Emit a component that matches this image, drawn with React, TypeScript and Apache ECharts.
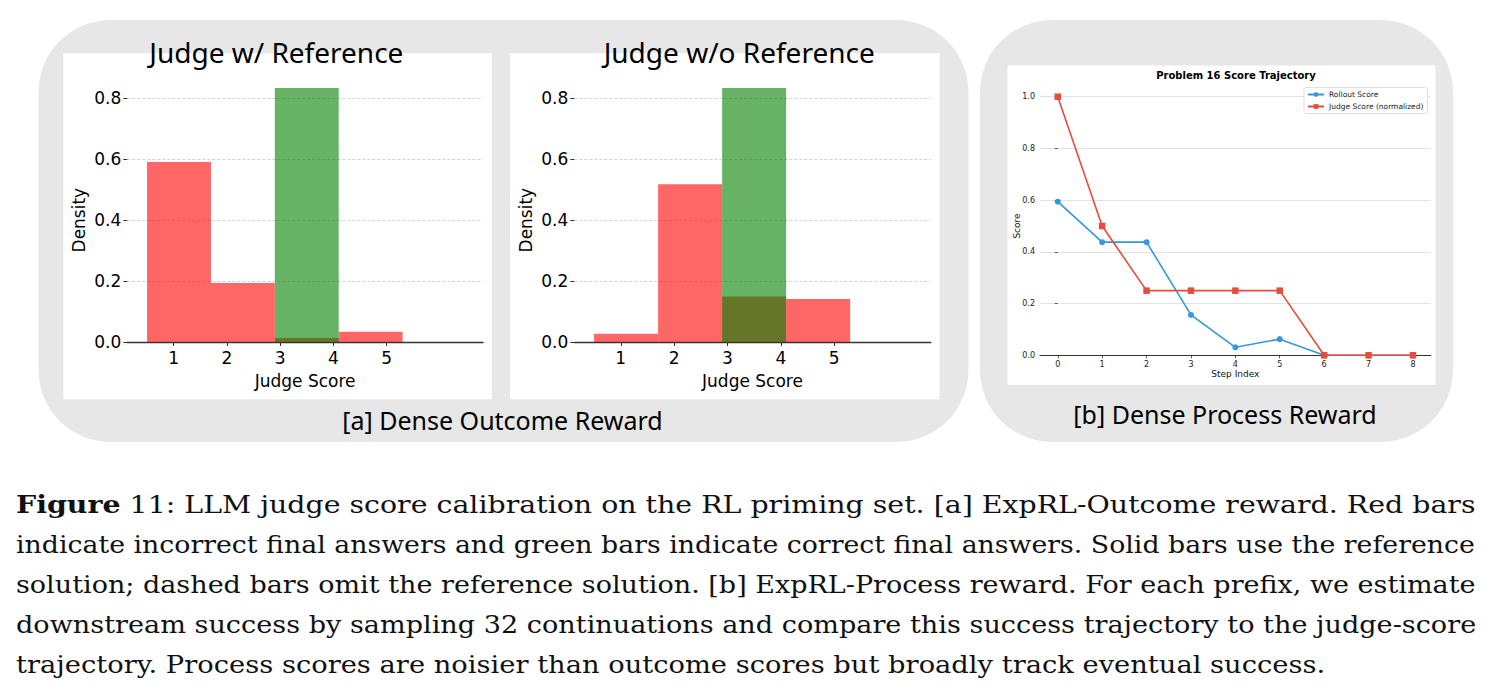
import React, { useEffect, useRef } from "react";
import * as echarts from "echarts";

// ---------- data ----------
const judgeTicks = [1, 2, 3, 4, 5];
const binEdges = [0.5, 1.7, 2.9, 4.1, 5.3];
const withRefIncorrect = [0.591, 0.194, 0.013, 0.034];
const withRefCorrect = [0, 0, 0.834, 0];
const withoutRefIncorrect = [0.027, 0.518, 0.149, 0.141];
const withoutRefCorrect = [0, 0, 0.834, 0];

const steps = [0, 1, 2, 3, 4, 5, 6, 7, 8];
const rolloutScore = [0.594, 0.4375, 0.4375, 0.156, 0.031, 0.0625, 0, 0, 0];
const judgeScoreNorm = [1.0, 0.5, 0.25, 0.25, 0.25, 0.25, 0, 0, 0];

const histTitles = ["Judge w/ Reference", "Judge w/o Reference"];
const panelLabels = ["[a] Dense Outcome Reward", "[b] Dense Process Reward"];
const lineTitle = "Problem 16 Score Trajectory";
const legendNames = ["Rollout Score", "Judge Score (normalized)"];

const captionBold = "Figure";
const captionLines = [
  " 11: LLM judge score calibration on the RL priming set. [a] ExpRL-Outcome reward. Red bars",
  "indicate incorrect final answers and green bars indicate correct final answers. Solid bars use the reference",
  "solution; dashed bars omit the reference solution. [b] ExpRL-Process reward. For each prefix, we estimate",
  "downstream success by sampling 32 continuations and compare this success trajectory to the judge-score",
  "trajectory. Process scores are noisier than outcome scores but broadly track eventual success.",
];

const SANS = "DejaVu Sans";
const PPT = "Noto Sans";
const SERIF = "DejaVu Serif";

function histData(vals: number[]) {
  return vals
    .map((v, i) => [binEdges[i], binEdges[i + 1], v])
    .filter((d) => d[2] > 0);
}

function histRender(color: string) {
  return (params: any, api: any) => {
    const x0 = api.value(0);
    const x1 = api.value(1);
    const h = api.value(2);
    const p0 = api.coord([x0, 0]);
    const p1 = api.coord([x1, h]);
    return {
      type: "rect",
      shape: { x: p0[0], y: p1[1], width: p1[0] - p0[0], height: p0[1] - p1[1] },
      style: { fill: color, opacity: 0.6 },
    };
  };
}

function measure(text: string, font: string) {
  const c = document.createElement("canvas").getContext("2d")!;
  c.font = font;
  return c.measureText(text).width;
}

export default function App() {
  const ref = useRef<HTMLDivElement>(null);
  useEffect(() => {
    if (!ref.current) return;
    const chart = echarts.init(ref.current, null, { renderer: "svg" });

    const capSize = 25;
    const capWidth = 1460;
    const scales = captionLines.map((line, i) => {
      let w = measure(line, `${capSize}px "${SERIF}"`);
      if (i === 0) w += measure(captionBold, `bold ${capSize}px "${SERIF}"`);
      return capWidth / w;
    });
    const avgScale = (scales[0] + scales[1] + scales[2] + scales[3]) / 4;
    const capBaseMid = [504.3, 544.3, 584.3, 624.3, 664.3];

    const captionEls = captionLines.map((line, i) => ({
      type: "text",
      x: 16,
      y: capBaseMid[i],
      scaleX: i === captionLines.length - 1 ? avgScale : scales[i],
      z: 10,
      style: {
        text: i === 0 ? `{b|${captionBold}}${line}` : line,
        rich: i === 0 ? { b: { fontWeight: "bold", fontSize: capSize, fontFamily: SERIF, fill: "#111" } } : undefined,
        fontSize: capSize,
        fontFamily: SERIF,
        fill: "#111",
        align: "left",
        verticalAlign: "middle",
      },
    }));

    const histX = (grid: number) => ({
      type: "value",
      gridIndex: grid,
      min: 0.129,
      max: 6.81,
      axisLine: { show: true, onZero: false, lineStyle: { color: "#333", width: 1.3 } },
      axisTick: { show: true, customValues: judgeTicks, length: 4, lineStyle: { color: "#333", width: 1 } },
      axisLabel: { customValues: judgeTicks, fontSize: 17, fontFamily: SANS, color: "#000", margin: 7 },
      splitLine: { show: false },
      name: "Judge Score",
      nameLocation: "middle",
      nameGap: 30,
      nameMoveOverlap: false,
      nameTextStyle: { fontSize: 17, fontFamily: SANS, color: "#000" },
    });
    const histY = (grid: number) => ({
      type: "value",
      gridIndex: grid,
      min: 0,
      max: 0.8,
      interval: 0.2,
      axisLine: { show: false },
      axisTick: { show: true, length: 4, lineStyle: { color: "#333", width: 1 } },
      axisLabel: { fontSize: 17, fontFamily: SANS, color: "#000", margin: 6, formatter: (v: number) => v.toFixed(1) },
      splitLine: { show: true, showMinLine: false, lineStyle: { color: "#c8c8c8", width: 0.8, type: [3, 2] } },
      name: "Density",
      nameLocation: "middle",
      nameRotate: 90,
      nameGap: 40,
      nameMoveOverlap: false,
      nameTextStyle: { fontSize: 17, fontFamily: SANS, color: "#000" },
    });

    const option: any = {
      animation: false,
      backgroundColor: "#fff",
      grid: [
        { left: 127.3, top: 98.3, width: 355.7, height: 243.7, containLabel: false, outerBoundsMode: "none" },
        { left: 574.3, top: 98.3, width: 356.4, height: 243.7, containLabel: false, outerBoundsMode: "none" },
        { left: 1040, top: 96.7, width: 390.7, height: 258.6, containLabel: false, outerBoundsMode: "none" },
      ],
      xAxis: [
        histX(0),
        histX(1),
        {
          type: "value",
          gridIndex: 2,
          min: -0.4,
          max: 8.4,
          axisLine: { show: true, onZero: false, lineStyle: { color: "#333", width: 1.1 } },
          axisTick: { show: true, customValues: steps, length: 3, lineStyle: { color: "#333", width: 0.8 } },
          axisLabel: { customValues: steps, fontSize: 8, fontFamily: SANS, color: "#222", margin: 5 },
          splitLine: { show: false },
          name: "Step Index",
          nameLocation: "middle",
          nameGap: 14,
          nameMoveOverlap: false,
          nameTextStyle: { fontSize: 9, fontFamily: SANS, color: "#111" },
        },
      ],
      yAxis: [
        histY(0),
        histY(1),
        {
          type: "value",
          gridIndex: 2,
          min: 0,
          max: 1,
          interval: 0.2,
          axisLine: { show: false },
          axisTick: { show: true, length: 3, lineStyle: { color: "#333", width: 0.8 } },
          axisLabel: { fontSize: 8, fontFamily: SANS, color: "#222", margin: 5, formatter: (v: number) => v.toFixed(1) },
          splitLine: { show: true, lineStyle: { color: "#e3e3e3", width: 1 } },
          name: "Score",
          nameLocation: "middle",
          nameRotate: 90,
          nameGap: 19,
          nameMoveOverlap: false,
          nameTextStyle: { fontSize: 9, fontFamily: SANS, color: "#111" },
        },
      ],
      legend: {
        data: legendNames,
        orient: "vertical",
        left: 1304,
        top: 87.5,
        itemWidth: 16,
        itemHeight: 6,
        itemGap: 4,
        padding: [3, 4, 3, 3],
        borderColor: "#d8d8d8",
        borderWidth: 0.8,
        borderRadius: 2,
        backgroundColor: "#fff",
        textStyle: { fontSize: 7.5, fontFamily: SANS, color: "#222" },
      },
      series: [
        { type: "custom", name: "wr-incorrect", xAxisIndex: 0, yAxisIndex: 0, renderItem: histRender("#ff0000"), data: histData(withRefIncorrect), encode: { x: [0, 1], y: 2 }, clip: false, z: 2 },
        { type: "custom", name: "wr-correct", xAxisIndex: 0, yAxisIndex: 0, renderItem: histRender("#008000"), data: histData(withRefCorrect), encode: { x: [0, 1], y: 2 }, clip: false, z: 3 },
        { type: "custom", name: "wo-incorrect", xAxisIndex: 1, yAxisIndex: 1, renderItem: histRender("#ff0000"), data: histData(withoutRefIncorrect), encode: { x: [0, 1], y: 2 }, clip: false, z: 2 },
        { type: "custom", name: "wo-correct", xAxisIndex: 1, yAxisIndex: 1, renderItem: histRender("#008000"), data: histData(withoutRefCorrect), encode: { x: [0, 1], y: 2 }, clip: false, z: 3 },
        {
          type: "line",
          name: legendNames[0],
          xAxisIndex: 2,
          yAxisIndex: 2,
          data: steps.map((s, i) => [s, rolloutScore[i]]),
          color: "#3498db",
          symbol: "circle",
          symbolSize: 6,
          showAllSymbol: true,
          lineStyle: { width: 1.6, color: "#3498db" },
          itemStyle: { color: "#3498db" },
          clip: false,
          z: 3,
        },
        {
          type: "line",
          name: legendNames[1],
          xAxisIndex: 2,
          yAxisIndex: 2,
          data: steps.map((s, i) => [s, judgeScoreNorm[i]]),
          color: "#e74c3c",
          symbol: "rect",
          symbolSize: 6.5,
          showAllSymbol: true,
          lineStyle: { width: 1.6, color: "#e74c3c" },
          itemStyle: { color: "#e74c3c" },
          clip: false,
          z: 4,
        },
      ],
      graphic: {
        elements: [
          { type: "rect", z: -10, shape: { x: 38.5, y: 20, width: 930, height: 422, r: 72 }, style: { fill: "#e7e7e7" } },
          { type: "rect", z: -10, shape: { x: 980, y: 20, width: 473, height: 422, r: 72 }, style: { fill: "#e7e7e7" } },
          { type: "rect", z: -9, shape: { x: 63.3, y: 53.3, width: 428.5, height: 346 }, style: { fill: "#fff" } },
          { type: "rect", z: -9, shape: { x: 510, y: 53.3, width: 429.5, height: 346 }, style: { fill: "#fff" } },
          { type: "rect", z: -9, shape: { x: 1007.5, y: 65.5, width: 428, height: 319.5 }, style: { fill: "#fff" } },
          { type: "text", z: 10, x: 276.3, y: 52.4, style: { text: histTitles[0], fontSize: 28, fontFamily: PPT, fill: "#000", align: "center", verticalAlign: "middle" } },
          { type: "text", z: 10, x: 739.2, y: 52.4, style: { text: histTitles[1], fontSize: 28, fontFamily: PPT, fill: "#000", align: "center", verticalAlign: "middle" } },
          { type: "text", z: 10, x: 502.5, y: 420.3, style: { text: panelLabels[0], fontSize: 25, fontFamily: PPT, fill: "#000", align: "center", verticalAlign: "middle" } },
          { type: "text", z: 10, x: 1225, y: 413.6, style: { text: panelLabels[1], fontSize: 25, fontFamily: PPT, fill: "#000", align: "center", verticalAlign: "middle" } },
          { type: "text", z: 10, x: 1236, y: 75.8, style: { text: lineTitle, fontSize: 10, fontWeight: "bold", fontFamily: SANS, fill: "#000", align: "center", verticalAlign: "middle" } },
          ...captionEls,
        ],
      },
    };

    chart.setOption(option);
    return () => chart.dispose();
  }, []);

  return <div ref={ref} style={{ position: "fixed", left: 0, top: 0, width: 1492, height: 697 }} />;
}
